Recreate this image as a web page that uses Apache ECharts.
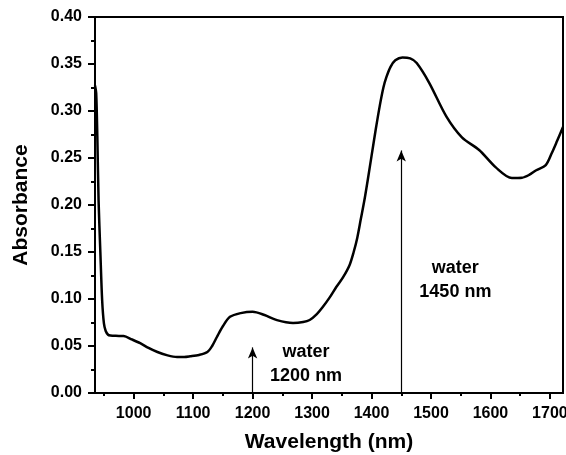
<!DOCTYPE html>
<html>
<head>
<meta charset="utf-8">
<script src="https://cdn.jsdelivr.net/npm/echarts@6/dist/echarts.min.js"></script>
<style>
  html, body { margin: 0; padding: 0; background: #fff; }
  #chart { width: 566px; height: 455px; }
</style>
</head>
<body>
<div id="chart"></div>
<script>
// 光谱数据 (波长 nm, 吸光度)
var wavelength = [935, 937, 939, 941, 944, 947, 950, 953, 957, 961, 970, 983, 997, 1011, 1025, 1040, 1057,
  1073, 1085, 1095, 1110, 1124, 1132, 1140, 1150, 1162, 1180, 1200, 1220, 1241, 1268, 1285, 1296, 1308,
  1318, 1330, 1341, 1352, 1363, 1370, 1376, 1382, 1388, 1394, 1400, 1407, 1414, 1420, 1425, 1432, 1440,
  1452, 1465, 1476, 1497, 1526, 1552, 1581, 1609, 1636, 1653, 1665, 1677, 1693, 1703, 1712, 1722];
var absorbance = [0.327, 0.319, 0.27, 0.205, 0.15, 0.099, 0.074, 0.066, 0.062, 0.0612, 0.0608, 0.0606, 0.057, 0.053, 0.048, 0.0436, 0.040,
  0.0383, 0.0383, 0.039, 0.0405, 0.0436, 0.050, 0.0596, 0.071, 0.081, 0.085, 0.0865, 0.083, 0.0775, 0.0745, 0.0755, 0.0777, 0.084,
  0.0915, 0.102, 0.113, 0.123, 0.136, 0.150, 0.165, 0.185, 0.205, 0.228, 0.252, 0.28, 0.306, 0.325, 0.336, 0.347, 0.354,
  0.357, 0.356, 0.351, 0.330, 0.294, 0.272, 0.2585, 0.240, 0.2287, 0.229, 0.232, 0.237, 0.2425, 0.255, 0.268, 0.283];

// 刻度
var majorTicks = [1000, 1100, 1200, 1300, 1400, 1500, 1600, 1700];
var minorTicks = [950, 1050, 1150, 1250, 1350, 1450, 1550, 1650];

// 箭头 (水峰)
var arrowX = [1200, 1450];
var arrowTop = [0.0485, 0.258];

// 文字标注 [波长, 吸光度, 文字]
var notes = [
  [1290, 0.0303, 'water\n1200 nm'],
  [1541, 0.1197, 'water\n1450 nm']
];

var font = 'Arial, "Liberation Sans", sans-serif';
var chart = echarts.init(document.getElementById('chart'));

var option = {
  backgroundColor: '#fff',
  animation: false,
  grid: {
    left: 95, right: 3, top: 17, bottom: 62,
    outerBoundsMode: 'none',
    containLabel: false,
    show: true, borderColor: '#000', borderWidth: 2
  },
  xAxis: [{
    type: 'value',
    min: 935,
    max: 1722,
    name: 'Wavelength (nm)',
    nameLocation: 'middle',
    nameGap: 39,
    nameTextStyle: { color: '#000', fontSize: 21, fontWeight: 'bold', fontFamily: font },
    axisLine: { show: true, lineStyle: { color: '#000', width: 2 } },
    axisTick: { show: true, customValues: majorTicks, length: 6, lineStyle: { color: '#000', width: 2 } },
    axisLabel: {
      customValues: majorTicks, margin: 13, color: '#000', fontSize: 16, fontWeight: 'bold', fontFamily: font,
      formatter: function (v) { return String(v); }
    },
    splitLine: { show: false }
  }, {
    // 次刻度
    type: 'value',
    position: 'bottom',
    min: 935,
    max: 1722,
    axisLine: { show: false },
    axisTick: { show: true, customValues: minorTicks, length: 3, lineStyle: { color: '#000', width: 2 } },
    axisLabel: { show: false },
    splitLine: { show: false }
  }],
  yAxis: {
    type: 'value',
    min: 0,
    max: 0.4,
    interval: 0.05,
    name: 'Absorbance',
    nameLocation: 'middle',
    nameGap: 63,
    nameTextStyle: { color: '#000', fontSize: 21, fontWeight: 'bold', fontFamily: font },
    axisLine: { show: true, lineStyle: { color: '#000', width: 2 } },
    axisTick: { show: true, length: 7, lineStyle: { color: '#000', width: 2 } },
    minorTick: { show: true, splitNumber: 2, length: 4, lineStyle: { color: '#000', width: 2 } },
    axisLabel: {
      margin: 13, color: '#000', fontSize: 16, fontWeight: 'bold', fontFamily: font,
      formatter: function (v) { return v.toFixed(2); }
    },
    splitLine: { show: false }
  },
  series: [{
    name: 'spectrum',
    type: 'line',
    xAxisIndex: 0,
    data: wavelength.map(function (w, i) { return [w, absorbance[i]]; }),
    showSymbol: false,
    smooth: 0.3,
    clip: true,
    lineStyle: { color: '#000', width: 2.5 },
    markLine: {
      silent: true,
      symbol: ['none', 'arrow'],
      symbolSize: [7, 11],
      label: { show: false },
      lineStyle: { color: '#000', width: 1.2, type: 'solid' },
      data: arrowX.map(function (x, i) {
        return [{ coord: [x, 0] }, { coord: [x, arrowTop[i]] }];
      })
    }
  }, {
    name: 'notes',
    type: 'scatter',
    xAxisIndex: 0,
    symbolSize: 0,
    silent: true,
    itemStyle: { opacity: 1 },
    data: notes,
    label: {
      show: true,
      position: 'inside',
      color: '#000',
      fontSize: 18,
      fontWeight: 'bold',
      fontFamily: font,
      lineHeight: 24,
      align: 'center',
      formatter: function (p) { return p.value[2]; }
    }
  }]
};

chart.setOption(option);
</script>
</body>
</html>
